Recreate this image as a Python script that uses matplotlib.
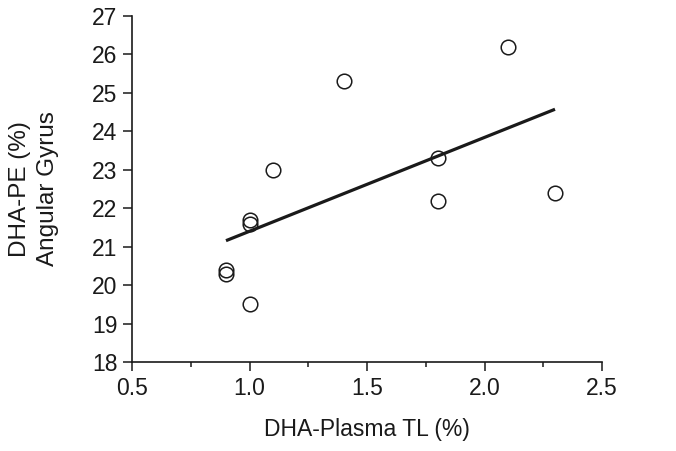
import numpy as np
from matplotlib import pyplot as plt
from matplotlib.ticker import MultipleLocator

plt.rcParams['font.family'] = ['Liberation Sans', 'DejaVu Sans']

# DHA in plasma total lipids vs DHA-PE in angular gyrus
plasma_tl = [0.9, 0.9, 1.0, 1.0, 1.0, 1.1, 1.4, 1.8, 1.8, 2.1, 2.3]
dha_pe = [20.4, 20.3, 19.5, 21.7, 21.6, 23.0, 25.3, 23.3, 22.2, 26.2, 22.4]

x = np.array(plasma_tl)
y = np.array(dha_pe)
slope, icept = np.polyfit(x, y, 1)
xf = np.array([x.min(), x.max()])

fig = plt.figure(figsize=(6.76, 4.51), dpi=100)
ax = fig.add_axes([132/676, 89/451, 470/676, 346/451])

ax.plot(xf, slope*xf + icept, color='#1a1a1a', lw=2.3, solid_capstyle='butt', zorder=2)
ax.plot(x, y, 'o', ms=10.5, mfc='none', mec='#1a1a1a', mew=1.1, zorder=3)

ax.set_xlim(0.5, 2.5)
ax.set_ylim(18, 27)
ax.xaxis.set_minor_locator(MultipleLocator(0.25))
ax.yaxis.set_major_locator(MultipleLocator(1))
ax.set_xticks([0.5, 1.0, 1.5, 2.0, 2.5])
ax.set_xticklabels(['0.5', '1.0', '1.5', '2.0', '2.5'])

for s in ['top', 'right']:
    ax.spines[s].set_visible(False)
for s in ['left', 'bottom']:
    ax.spines[s].set_linewidth(1.2)
    ax.spines[s].set_color('#1a1a1a')

ax.tick_params(which='major', length=6.5, width=1.1, labelsize=16.5, colors='#1a1a1a', pad=4)
ax.tick_params(which='minor', length=3.6, width=1.1, colors='#1a1a1a')
ax.tick_params(axis='y', which='minor', left=False)

ax.set_xlabel('DHA-Plasma TL (%)', fontsize=16.5, color='#1a1a1a', labelpad=13)
ax.set_ylabel('DHA-PE (%)\nAngular Gyrus', fontsize=17.5, color='#1a1a1a', labelpad=24,
              linespacing=1.3)

plt.savefig('out.png', dpi=100)
